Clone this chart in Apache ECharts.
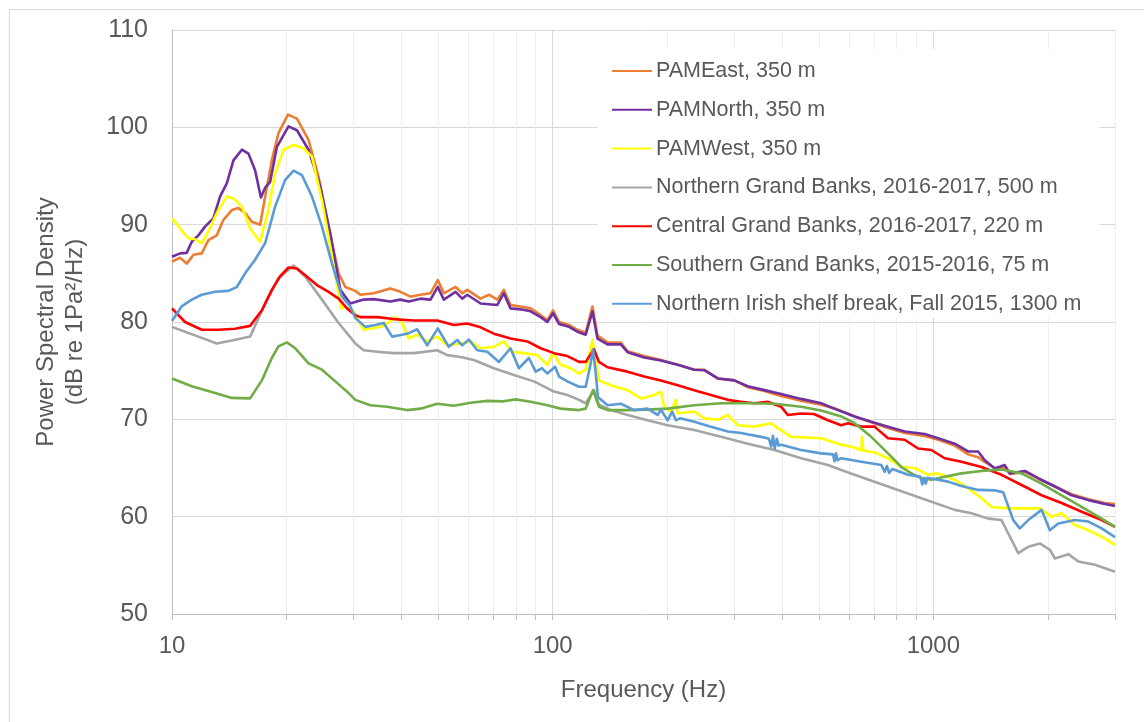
<!DOCTYPE html>
<html><head><meta charset="utf-8">
<script src="https://cdn.jsdelivr.net/npm/echarts@6/dist/echarts.min.js"></script>
<style>html,body{margin:0;padding:0;background:#fff}#c{width:1144px;height:722px}</style>
</head><body><div id="c"></div>
<script>
// ---------- DATA (frequency Hz, PSD dB re 1uPa^2/Hz) ----------
const seriesNames = [
  'PAMEast, 350 m',
  'PAMNorth, 350 m',
  'PAMWest, 350 m',
  'Northern Grand Banks, 2016-2017, 500 m',
  'Central Grand Banks, 2016-2017, 220 m',
  'Southern Grand Banks, 2015-2016, 75 m',
  'Northern Irish shelf break, Fall 2015, 1300 m'
];
const xLabelValues = [10, 100, 1000];
const xTickValues = [10,20,30,40,50,60,70,80,90,100,200,300,400,500,600,700,800,900,1000,2000,3000];
const yMin = 50, yMax = 110, yStep = 10;

const pamEast = [[10,86.2],[10.5,86.6],[10.93,86.0],[11.38,86.9],[11.97,87.05],[12.46,88.4],[13.11,88.9],[13.65,90.5],[14.36,91.5],[14.94,91.7],[15.56,91.2],[16.21,90.3],[17.04,90.0],[17.57,92.9],[18.29,96.6],[19.04,99.4],[20.16,101.3],[21.29,100.9],[22.84,98.7],[24.27,94.9],[25.78,89.8],[27.39,85.0],[28.53,83.6],[30.31,83.2],[31.25,82.8],[33.87,82.95],[37.47,83.45],[39.81,83.1],[42.3,82.6],[44.94,82.8],[47.75,82.95],[49.92,84.3],[51.76,82.95],[55.56,83.6],[57.87,82.95],[59.65,83.3],[64.65,82.4],[67.99,82.8],[71.54,82.3],[74.4,83.3],[77.49,81.75],[82.34,81.6],[87.5,81.4],[93,80.7],[96.85,80.2],[100.2,81.2],[103.9,80.0],[110.4,79.7],[116.1,79.2],[122.1,78.9],[127.2,81.6],[131.1,78.6],[139.3,77.9],[151,77.9],[157.3,77.0],[173.9,76.5],[192.4,76.1],[213,75.6],[235.4,75.1],[250.1,75.1],[271.3,74.2],[300,74.0],[325.4,73.3],[359.8,72.9],[398.1,72.4],[449.4,71.9],[507.4,71.5],[561.4,71.0],[620.8,70.3],[686.8,69.7],[760,69.1],[840.5,68.6],[948.8,68.3],[1029,67.9],[1138,67.3],[1234,66.4],[1311,66.1],[1365,65.6],[1450,65.0],[1540,65.0],[1588,64.4],[1739,64.6],[1886,63.9],[2086,63.1],[2308,62.3],[2554,61.8],[2823,61.4],[3000,61.3]];

const pamNorth = [[10,86.7],[10.5,87.05],[10.93,87.1],[11.27,88.25],[11.73,88.9],[12.21,89.8],[12.84,90.65],[13.38,92.9],[13.93,94.25],[14.5,96.6],[15.26,97.7],[15.88,97.3],[16.53,95.6],[17.12,92.8],[17.57,93.8],[18.11,94.4],[18.86,98.0],[20.23,100.1],[21.29,99.7],[22.84,97.7],[24.52,93.9],[26.05,89.1],[27.68,83.3],[29.4,81.9],[31.88,82.3],[33.87,82.35],[37.47,82.1],[39.81,82.3],[41.87,82.1],[44.94,82.4],[47.75,82.3],[49.92,83.6],[51.76,82.3],[55.56,83.1],[57.87,82.4],[59.65,82.8],[64.65,81.9],[71.54,81.75],[74.4,82.95],[77.49,81.4],[82.34,81.3],[87.5,81.1],[93,80.5],[96.85,80.0],[100.2,80.9],[103.9,79.8],[110.4,79.5],[116.1,79.0],[122.1,78.7],[127.2,81.1],[131.1,78.3],[139.3,77.7],[151,77.7],[157.3,76.9],[173.9,76.35],[192.4,76.05],[213,75.6],[235.4,75.1],[250.1,75.05],[271.3,74.2],[300,74.0],[325.4,73.4],[359.8,73.0],[398.1,72.6],[449.4,72.1],[507.4,71.65],[561.4,70.95],[620.8,70.3],[686.8,69.75],[760,69.25],[840.5,68.75],[948.8,68.5],[1029,68.05],[1138,67.5],[1234,66.7],[1311,66.7],[1365,65.8],[1450,64.95],[1540,65.3],[1588,64.45],[1739,64.7],[1886,63.95],[2086,63.1],[2308,62.2],[2554,61.7],[2823,61.3],[3000,61.1]];

const pamWest = [[10,90.65],[10.5,89.6],[11.04,88.6],[11.5,88.5],[11.97,88.1],[12.46,89.3],[13.11,91.2],[13.93,92.9],[14.5,92.7],[15.26,91.85],[16.04,89.6],[17.04,88.25],[17.92,91.5],[18.66,95.3],[19.63,97.7],[20.86,98.2],[22.15,97.85],[23.31,97.0],[24.77,92.5],[26.32,86.7],[27.82,81.4],[28.23,81.6],[30,81.1],[31.88,79.2],[33.87,79.35],[35.98,79.6],[38.62,80.5],[40.23,79.9],[41.87,78.3],[44.05,78.7],[46.81,78.0],[49.74,78.5],[52.84,77.6],[57.27,77.8],[60.85,78.0],[64.65,77.3],[70.08,77.45],[74.4,78.0],[78.29,76.95],[84,76.8],[91.15,76.6],[96.85,75.6],[100.2,76.8],[104.9,75.6],[111.5,75.25],[117.3,74.7],[122.1,75.1],[127.2,78.15],[132.3,74.0],[142.1,73.5],[157.3,73.0],[170.5,72.15],[184.8,72.5],[192.4,72.85],[196.3,71.3],[204.4,70.8],[210.8,72.0],[213,70.6],[235.4,70.8],[250.1,70.1],[271.3,69.95],[288.2,70.45],[306.2,69.4],[338.6,69.25],[374.7,69.6],[390.2,69.1],[423,68.2],[507.4,68.05],[572.7,67.4],[620.8,67.1],[646.5,66.8],[649.3,68.2],[655,66.8],[700.7,66.6],[760,66.0],[823.9,65.1],[893.3,65.0],[968.8,64.3],[1029,64.45],[1138,63.8],[1234,62.9],[1338,61.9],[1421,61.0],[1572,60.85],[1739,60.85],[1904,60.85],[2044,60.0],[2172,60.35],[2354,59.15],[2554,58.6],[2768,57.95],[3000,57.1]];

const northernGB = [[10,79.5],[10.82,79.0],[11.73,78.5],[13.11,77.8],[14.36,78.1],[16.04,78.5],[17.57,81.9],[19.04,84.5],[20.86,85.8],[22.39,84.65],[24.77,82.3],[27.39,79.9],[30.31,77.8],[31.88,77.1],[34.58,76.95],[38.22,76.8],[43.15,76.8],[49.74,77.1],[52.84,76.6],[57.27,76.4],[62.08,76.1],[70.08,75.25],[79.07,74.55],[89.3,73.9],[100.8,72.85],[109.3,72.5],[117.3,72.0],[122.1,71.65],[128.4,73.0],[132.3,71.5],[142.1,70.95],[157.3,70.45],[177.5,69.9],[200.4,69.4],[235.4,68.9],[276.8,68.2],[325.4,67.5],[382.3,66.85],[449.4,66.0],[528.4,65.3],[572.7,64.8],[620.8,64.3],[760,63.1],[930,61.9],[1138,60.7],[1259,60.35],[1393,59.8],[1510,59.65],[1572,58.3],[1671,56.25],[1775,56.9],[1904,57.25],[2023,56.6],[2086,55.7],[2262,56.15],[2404,55.4],[2658,55.05],[3000,54.35]];

const centralGB = [[10,81.4],[10.82,80.0],[11.97,79.2],[13.24,79.2],[14.65,79.3],[16.04,79.6],[17.22,81.2],[18.29,83.3],[19.24,84.7],[20.23,85.6],[21.29,85.5],[22.39,84.8],[24.03,83.8],[25.78,83.1],[27.39,82.4],[28.82,81.4],[30.31,80.7],[31.25,80.5],[34.58,80.5],[38.22,80.3],[43.15,80.15],[49.74,80.15],[55,79.7],[59.65,79.85],[64.65,79.45],[70.08,78.8],[77.49,78.3],[85.8,78.0],[93,77.3],[100.8,76.8],[109.3,76.5],[117.3,75.9],[122.1,75.9],[128.4,77.2],[132.3,75.9],[139.3,75.35],[157.3,74.9],[173.9,74.4],[192.4,74.0],[213,73.5],[235.4,73.0],[260.5,72.5],[288.2,72.0],[312.4,71.8],[338.6,71.65],[366.9,71.8],[398.1,71.3],[414.6,70.45],[449.4,70.6],[485.5,70.55],[528.4,69.9],[572.7,69.4],[596.5,69.6],[646.5,69.25],[700.7,69.25],[760,68.05],[840.5,67.9],[911.8,67.0],[988,66.85],[1071,66.0],[1185,65.65],[1338,65.1],[1510,64.3],[1705,63.25],[1924,62.2],[2172,61.4],[2452,60.5],[2768,59.65],[3000,58.95]];

const southernGB = [[10,74.2],[11.27,73.4],[12.98,72.7],[14.36,72.2],[16.04,72.15],[17.22,74.0],[18.29,76.3],[19.04,77.5],[20.04,77.9],[21.08,77.3],[22.84,75.75],[24.77,75.1],[26.85,73.9],[29.1,72.7],[30.31,72.0],[33.2,71.45],[36.73,71.3],[41.46,70.95],[44.94,71.1],[49.74,71.6],[55,71.4],[60.85,71.7],[67.34,71.9],[74.4,71.85],[79.88,72.05],[87.5,71.8],[96.85,71.45],[104.9,71.1],[117.3,70.95],[122.1,71.1],[127.6,73.0],[132.3,71.3],[139.3,70.95],[157.3,70.95],[177.5,71.0],[200.4,71.1],[235.4,71.45],[276.8,71.65],[325.4,71.65],[382.3,71.6],[449.4,71.3],[507.4,70.9],[572.7,70.3],[620.8,69.6],[686.8,68.2],[760,66.5],[823.9,65.1],[875.6,64.45],[930,63.95],[988,63.8],[1071,64.1],[1185,64.45],[1338,64.7],[1510,64.85],[1705,64.45],[1924,63.4],[2172,62.2],[2452,61.0],[2768,59.8],[3000,58.95]];

const northernIrish = [[10,80.1],[10.6,81.6],[11.27,82.3],[11.97,82.8],[12.98,83.1],[14.07,83.2],[14.8,83.6],[15.56,85.0],[16.53,86.4],[17.57,88.1],[18.66,91.85],[19.83,94.6],[20.86,95.55],[21.94,95.1],[23.31,92.9],[24.77,89.8],[26.32,86.0],[27.96,82.6],[29.4,81.6],[30.31,80.4],[30.63,80.2],[32.21,79.5],[34.22,79.7],[35.98,79.9],[37.86,78.5],[40.23,78.7],[41.87,78.85],[44.05,79.25],[46.81,77.6],[49.92,79.35],[53.35,77.45],[56.14,78.15],[57.87,77.6],[60.23,78.2],[63.37,77.1],[67.34,76.95],[72.24,75.9],[77.49,77.3],[81.49,75.25],[86.6,76.3],[90.2,74.9],[93.7,75.25],[96.85,74.7],[101.5,75.4],[103.9,74.4],[109.3,73.9],[117.3,73.35],[122.1,73.35],[125.5,75.5],[127.6,77.2],[129.5,75.0],[131.5,72.3],[139.3,71.45],[151,71.6],[163.7,70.95],[177.5,71.1],[188.6,70.45],[192.4,71.0],[200.4,69.9],[206,70.8],[210.8,69.9],[216,70.1],[235.4,69.75],[260.5,69.25],[288.2,68.75],[312.4,68.6],[352.7,68.2],[370,68.0],[375,67.2],[379,68.3],[383,67.0],[388,68.0],[392,67.3],[398.1,67.4],[449.4,66.85],[507.4,66.5],[545,66.4],[550,65.7],[555,66.5],[560,65.8],[572.7,66.0],[646.5,65.65],[730,65.3],[745,64.6],[755,65.2],[765,64.5],[780,64.9],[857.9,64.3],[925,64.1],[935,63.3],[945,64.0],[955,63.4],[965,64.0],[1093,63.6],[1185,63.15],[1311,62.75],[1450,62.7],[1526,62.5],[1621,59.65],[1687,58.8],[1775,59.65],[1924,60.7],[2023,58.6],[2129,59.3],[2354,59.65],[2554,59.5],[2768,58.8],[3000,57.9]];

const seriesData = [pamEast, pamNorth, pamWest, northernGB, centralGB, southernGB, northernIrish];

// ---------- STYLE ----------
const seriesColors = ['#ED7D31', '#7030A0', '#FFFF00', '#A5A5A5', '#FF0000', '#70AD47', '#5B9BD5'];
const FONT = 'Liberation Sans, Arial, sans-serif';
const TXT = '#595959';

const chart = echarts.init(document.getElementById('c'), null, {renderer: 'canvas'});
const gridColors = ['#d9d9d9','#eeeeee','#eeeeee','#eeeeee','#eeeeee','#eeeeee','#eeeeee','#eeeeee','#eeeeee'];

chart.setOption({
  backgroundColor: '#ffffff',
  animation: false,
  graphic: [{
    type: 'rect', left: 7, top: 7, silent: true, z: -10,
    shape: {width: 1300, height: 900},
    style: {fill: 'none', stroke: '#d9d9d9', lineWidth: 1}
  }],
  grid: {left: 172, top: 30, right: 29, bottom: 108, containLabel: false},
  legend: {
    orient: 'vertical', left: 598, top: 49,
    padding: [11, 18, 3, 13],
    backgroundColor: '#ffffff',
    itemWidth: 40, itemHeight: 20, itemGap: 16.8,
    itemStyle: {opacity: 0},
    textStyle: {fontFamily: FONT, fontSize: 21.5, color: TXT, lineHeight: 20, padding: [0,0,0,-1]},
    data: seriesNames
  },
  xAxis: {
    type: 'log', logBase: 10, min: 10, max: 3000,
    name: 'Frequency (Hz)', nameLocation: 'middle', nameGap: 64,
    nameTextStyle: {fontFamily: FONT, fontSize: 24, color: TXT},
    axisLine: {show: true, lineStyle: {color: '#bfbfbf', width: 1}},
    axisTick: {show: true, length: 6, customValues: xTickValues, lineStyle: {color: '#bfbfbf'}},
    axisLabel: {customValues: xLabelValues, formatter: v => String(Math.round(v)), fontFamily: FONT, fontSize: 24, color: TXT, margin: 20},
    splitLine: {show: true, lineStyle: {color: gridColors, width: 1}},
    minorTick: {show: false}, minorSplitLine: {show: false}
  },
  yAxis: {
    type: 'value', min: yMin, max: yMax, interval: yStep,
    name: 'Power Spectral Density\n(dB re 1Pa²/Hz)', nameLocation: 'middle', nameGap: 82,
    nameTextStyle: {fontFamily: FONT, fontSize: 24, color: TXT, lineHeight: 29},
    axisLine: {show: true, lineStyle: {color: '#bfbfbf', width: 1}},
    axisTick: {show: false},
    axisLabel: {fontFamily: FONT, fontSize: 25, color: TXT, margin: 24},
    splitLine: {show: true, lineStyle: {color: '#d9d9d9', width: 1}}
  },
  series: seriesNames.map((name, i) => ({
    name: name, type: 'line', data: seriesData[i],
    symbol: 'none', showSymbol: false, smooth: false,
    lineStyle: {color: seriesColors[i], width: 2.6, join: 'round'},
    itemStyle: {color: seriesColors[i]},
    z: 2 + i, clip: true
  }))
});
</script></body></html>
